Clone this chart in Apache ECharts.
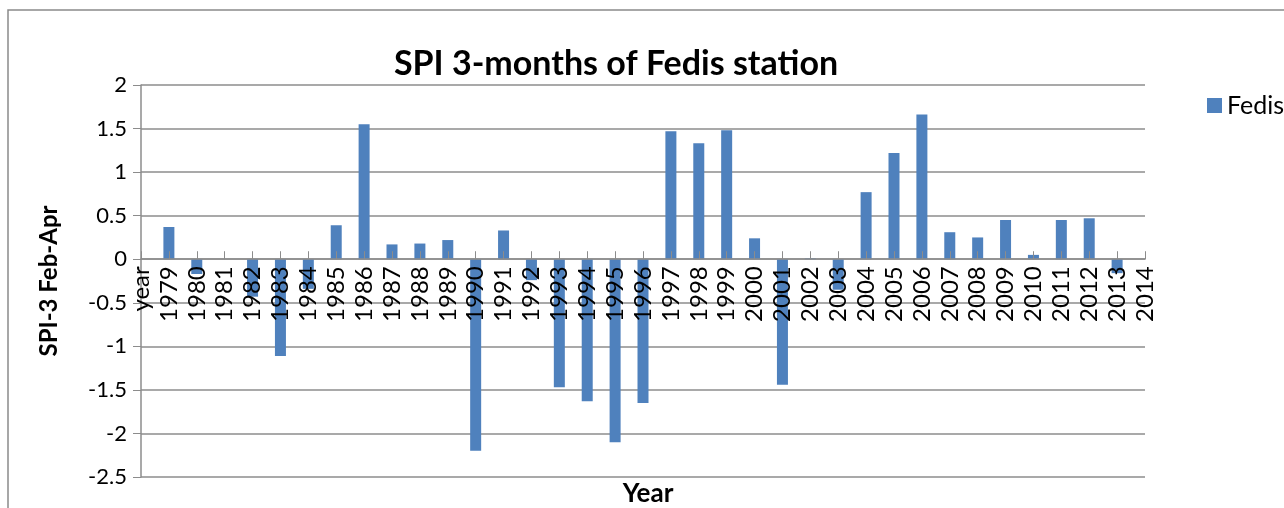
<!DOCTYPE html>
<html>
<head>
<meta charset="utf-8">
<script src="https://cdn.jsdelivr.net/npm/echarts@6/dist/echarts.min.js"></script>
<style>
  html, body { margin: 0; padding: 0; background: #fff; }
  #chart { width: 1284px; height: 508px; }
</style>
</head>
<body>
<div id="chart"></div>
<script>
// category labels along the x axis (first one is the stray "year" header)
const categories = ['year', '1979', '1980', '1981', '1982', '1983', '1984', '1985', '1986', '1987',
  '1988', '1989', '1990', '1991', '1992', '1993', '1994', '1995', '1996', '1997', '1998', '1999',
  '2000', '2001', '2002', '2003', '2004', '2005', '2006', '2007', '2008', '2009', '2010', '2011',
  '2012', '2013', '2014'];

// SPI-3 (Feb-Apr) values for Fedis
const fedis = [null, 0.37, -0.17, null, -0.43, -1.11, -0.34, 0.39, 1.55, 0.17,
  0.18, 0.22, -2.20, 0.33, -0.24, -1.47, -1.63, -2.10, -1.65, 1.47, 1.33, 1.48,
  0.24, -1.44, 0.01, -0.35, 0.77, 1.22, 1.66, 0.31, 0.25, 0.45, 0.05, 0.45,
  0.47, -0.16, null];

// y ticks
const yMin = -2.5;
const yMax = 2;
const yStep = 0.5;

const font = 'Lato, "Liberation Sans", sans-serif';
const gray = '#8c8c8c';

// plot box
const gridTop = 85;
const gridBottom = 31;
const gridHeight = 508 - gridTop - gridBottom;
// lift the category axis from the bottom up to the zero line
const zeroOffset = -gridHeight * (0 - yMin) / (yMax - yMin);

const chart = echarts.init(document.getElementById('chart'));

chart.setOption({
  animation: false,
  textStyle: { fontFamily: font },
  graphic: [
    {
      type: 'rect',
      shape: { x: 8, y: 10, width: 1320, height: 540 },
      style: { fill: 'none', stroke: '#8a8a8a', lineWidth: 1.5 },
      silent: true,
    },
  ],
  title: [
    {
      text: 'SPI 3-months of Fedis station',
      left: 611,
      top: 42,
      textAlign: 'center',
      textStyle: { fontFamily: font, fontSize: 34, fontWeight: 'bold', color: '#000' },
    },
    {
      text: 'Year',
      left: 643,
      top: 476,
      textAlign: 'center',
      textStyle: { fontFamily: font, fontSize: 26, fontWeight: 'bold', color: '#000' },
    },
  ],
  legend: {
    left: 1202,
    top: 88,
    itemWidth: 15,
    itemHeight: 15,
    itemGap: 8,
    icon: 'rect',
    textStyle: { fontFamily: font, fontSize: 25, color: '#000' },
    data: ['Fedis'],
  },
  grid: {
    left: 141,
    right: 139,
    top: gridTop,
    bottom: gridBottom,
    containLabel: false,
    outerBoundsMode: 'none',
  },
  xAxis: [
    {
      type: 'category',
      data: categories,
      boundaryGap: false,
      position: 'bottom',
      offset: zeroOffset,
      z: 5,
      axisLine: { onZero: false, lineStyle: { color: gray, width: 1.5 } },
      axisTick: { inside: true, length: 8, interval: 0, lineStyle: { color: gray } },
      axisLabel: {
        rotate: 90,
        interval: 0,
        margin: 7,
        fontSize: 24,
        color: '#000',
        fontFamily: font,
      },
      splitLine: { show: false },
    },
    {
      // half-step outer ticks between the categories
      type: 'category',
      data: categories.slice(1),
      boundaryGap: true,
      position: 'bottom',
      offset: zeroOffset,
      z: 5,
      axisLine: { show: false, onZero: false },
      axisTick: { alignWithLabel: true, length: 6, interval: 0, lineStyle: { color: gray } },
      axisLabel: { show: false },
      splitLine: { show: false },
    },
  ],
  yAxis: {
    type: 'value',
    min: yMin,
    max: yMax,
    interval: yStep,
    name: 'SPI-3 Feb-Apr',
    nameLocation: 'middle',
    nameGap: 80,
    nameTextStyle: { fontFamily: font, fontSize: 24, fontWeight: 'bold', color: '#000' },
    axisLine: { show: true, lineStyle: { color: gray, width: 1.5 } },
    axisTick: { show: true, length: 8, lineStyle: { color: gray } },
    axisLabel: { fontSize: 22, color: '#000', margin: 14, fontFamily: font },
    splitLine: { lineStyle: { color: gray, width: 1.5 } },
  },
  series: [
    {
      name: 'Fedis',
      type: 'bar',
      data: fedis,
      barWidth: 11,
      itemStyle: { color: '#4F81BD' },
    },
  ],
});
</script>
</body>
</html>
